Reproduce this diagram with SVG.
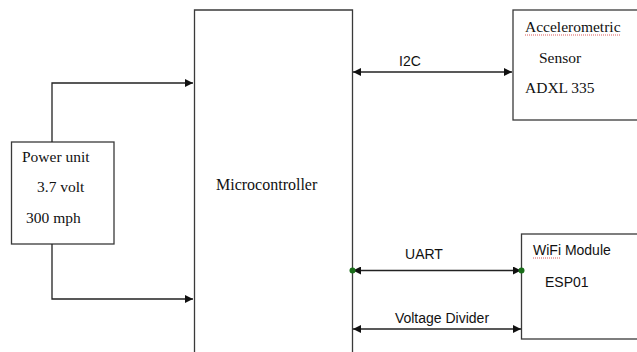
<svg xmlns="http://www.w3.org/2000/svg" width="637" height="352" viewBox="0 0 637 352">
<defs>
<style>
.box{fill:#fff;stroke:#3a3a3a;stroke-width:1.3}
.ln{fill:none;stroke:#222;stroke-width:1.3}
.serif{font-family:"Liberation Serif","Times New Roman",serif;font-size:15.5px;fill:#111}
.sans{font-family:"Liberation Sans",Arial,sans-serif;font-size:14px;fill:#111}
.dot{fill:#1a6e1a}
.squig{fill:none;stroke:#d03030;stroke-width:0.8;stroke-dasharray:1 1}
</style>
<marker id="ah" viewBox="0 0 10 10" refX="10" refY="5" markerWidth="8" markerHeight="8" markerUnits="userSpaceOnUse" orient="auto-start-reverse">
<path d="M0,0 L10,5 L0,10 Z" fill="#111"/>
</marker>
</defs>
<rect width="637" height="352" fill="#fff"/>
<g id="power">
<rect class="box" x="11.5" y="142" width="102.5" height="102"/>
<text class="serif" x="22" y="162">Power unit</text>
<text class="serif" x="37" y="192">3.7 volt</text>
<text class="serif" x="26" y="223">300 mph</text>
</g>
<g id="microcontroller">
<path class="box" d="M194.5,360 V10 H352.5 V360"/>
<text class="serif" x="216" y="190" style="font-size:16px">Microcontroller</text>
</g>
<g id="sensor">
<rect class="box" x="513" y="10" width="130" height="110"/>
<text class="serif" x="525" y="32">Accelerometric</text>
<path class="squig" d="M525,35 H621"/>
<text class="serif" x="539" y="63">Sensor</text>
<text class="serif" x="525" y="93">ADXL 335</text>
</g>
<g id="wifi">
<rect class="box" x="521.5" y="234" width="130" height="105"/>
<text class="sans" x="533" y="255">WiFi Module</text>
<path class="squig" d="M533,258 H560"/>
<text class="sans" x="545" y="287">ESP01</text>
</g>
<g id="connectors">
<path class="ln" d="M52,142 V83 H193" marker-end="url(#ah)"/>
<path class="ln" d="M52,244 V299 H193" marker-end="url(#ah)"/>
<path class="ln" d="M353,72 H512" marker-start="url(#ah)" marker-end="url(#ah)"/>
<path class="ln" d="M353,270.5 H521" marker-start="url(#ah)" marker-end="url(#ah)"/>
<path class="ln" d="M353,329 H521" marker-start="url(#ah)" marker-end="url(#ah)"/>
<circle class="dot" cx="352.5" cy="270.5" r="3"/>
<circle class="dot" cx="521.5" cy="270.5" r="3"/>
<text class="sans" x="410" y="66" text-anchor="middle">I2C</text>
<text class="sans" x="424" y="259" text-anchor="middle">UART</text>
<text class="sans" x="442" y="323" text-anchor="middle">Voltage Divider</text>
</g>
</svg>
